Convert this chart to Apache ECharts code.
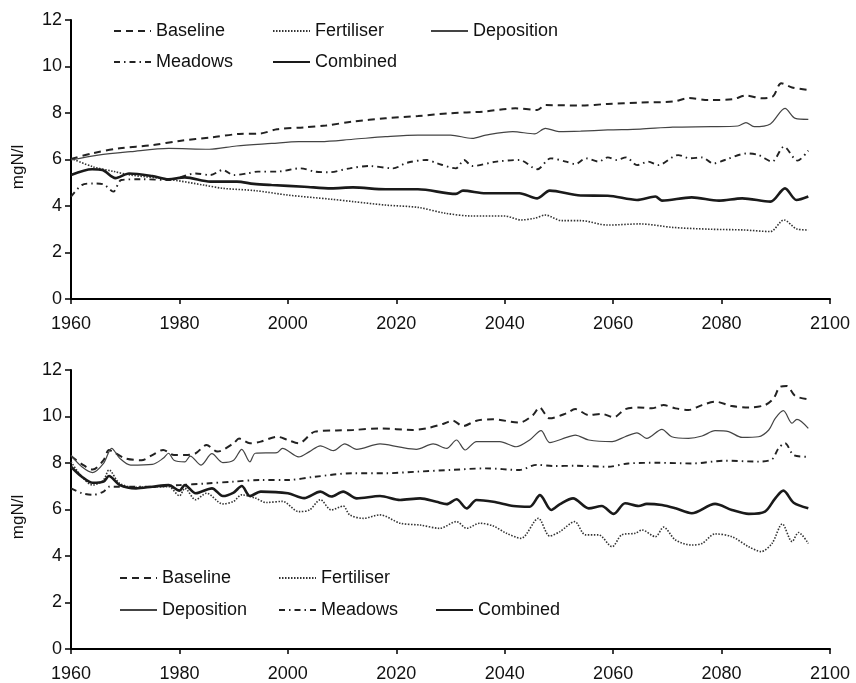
<!DOCTYPE html>
<html>
<head>
<meta charset="utf-8">
<script src="https://cdn.jsdelivr.net/npm/echarts@6/dist/echarts.min.js"></script>
<style>
  html, body { margin: 0; padding: 0; background: #fff; }
  #chart { width: 856px; height: 683px; }
</style>
</head>
<body>
<div id="chart"></div>
<script>
// values, [year, mgN/l]
var topBaseline = [[1960,6.02],[1964,6.27],[1969,6.48],[1975,6.62],[1980,6.8],[1986,6.95],[1991,7.1],[1995,7.12],[1998,7.3],[2003,7.38],[2007,7.46],[2012,7.63],[2018,7.77],[2024,7.87],[2030,7.99],[2036,8.06],[2042,8.2],[2046,8.13],[2047.5,8.34],[2054,8.32],[2059,8.39],[2065,8.45],[2071,8.49],[2074,8.64],[2077.5,8.56],[2082,8.59],[2084.5,8.75],[2087.5,8.63],[2089.5,8.72],[2091,9.28],[2093,9.1],[2096,8.99]];
var topFertiliser = [[1960,6.05],[1964,5.69],[1968,5.48],[1971,5.33],[1978,5.15],[1984.5,4.9],[1988,4.76],[1994,4.66],[2000,4.47],[2008,4.29],[2012,4.19],[2018,4.04],[2024,3.94],[2029,3.69],[2034,3.57],[2040,3.57],[2043,3.4],[2045.5,3.47],[2047.5,3.61],[2050.5,3.37],[2054,3.37],[2059,3.18],[2065,3.23],[2071,3.08],[2078,3.0],[2084,2.97],[2089,2.9],[2091.5,3.4],[2094,3.0],[2096,2.97]];
var topDeposition = [[1960,5.98],[1965,6.19],[1971,6.34],[1978,6.48],[1985.5,6.44],[1990.5,6.58],[1997,6.69],[2002,6.77],[2006,6.77],[2012,6.87],[2018,6.98],[2024,7.05],[2030,7.05],[2034,6.91],[2036.5,7.05],[2041.5,7.2],[2045.5,7.1],[2047.5,7.34],[2050,7.2],[2054,7.22],[2059,7.27],[2065,7.31],[2071,7.39],[2078,7.41],[2083,7.44],[2084.5,7.59],[2086,7.41],[2089,7.53],[2091.7,8.2],[2093.6,7.77],[2096,7.73]];
var topMeadows = [[1960,4.4],[1962,4.9],[1964,4.97],[1966,4.93],[1967.8,4.62],[1969.3,5.12],[1973,5.15],[1978,5.12],[1983,5.4],[1985.7,5.33],[1988,5.55],[1990,5.33],[1992.5,5.4],[1994.5,5.48],[1998,5.48],[2002.3,5.62],[2005,5.48],[2007.5,5.45],[2011.4,5.62],[2015,5.72],[2019.4,5.62],[2022,5.86],[2025.6,5.98],[2027.5,5.84],[2031,5.62],[2032.5,5.98],[2034,5.72],[2038.5,5.91],[2042.7,5.98],[2046,5.58],[2048.5,6.05],[2051.3,5.91],[2053,5.8],[2055,6.05],[2057.3,5.91],[2059,6.09],[2060.6,5.98],[2062.4,6.09],[2064.4,5.76],[2066.5,5.91],[2068.3,5.76],[2072,6.19],[2074.2,6.05],[2076.4,6.09],[2078.5,5.83],[2080.6,5.98],[2084.7,6.26],[2086.8,6.19],[2089.3,5.91],[2091.5,6.55],[2094,5.95],[2096,6.38]];
var topCombined = [[1960,5.33],[1963.9,5.58],[1965.8,5.55],[1968.2,5.2],[1970.7,5.4],[1975,5.29],[1978,5.15],[1981,5.23],[1985.7,5.05],[1990.6,5.05],[1993.7,4.95],[1997,4.9],[2003,4.83],[2008,4.76],[2012,4.8],[2018,4.72],[2024,4.72],[2031,4.52],[2032.3,4.66],[2036.5,4.55],[2042.7,4.55],[2046,4.33],[2048.3,4.66],[2054,4.45],[2059,4.44],[2064.4,4.26],[2067.8,4.41],[2069,4.23],[2074.5,4.37],[2079.5,4.23],[2083.8,4.33],[2089,4.19],[2091.7,4.76],[2093.8,4.26],[2096,4.41]];

var botBaseline = [[1960,8.3],[1962,7.95],[1964,7.72],[1966,8.12],[1967,8.56],[1968,8.45],[1970,8.2],[1973,8.12],[1975,8.34],[1977,8.56],[1979,8.34],[1981,8.34],[1983,8.42],[1985,8.77],[1987,8.49],[1990,8.85],[1991,9.05],[1993,8.85],[1995,8.92],[1998,9.13],[2000,8.99],[2002,8.85],[2005,9.35],[2009,9.4],[2012,9.42],[2017,9.49],[2023,9.42],[2025.6,9.49],[2028.6,9.68],[2030.4,9.82],[2032.3,9.59],[2034.8,9.82],[2037.8,9.88],[2042.7,9.74],[2045.2,10.06],[2046.4,10.39],[2048.3,9.92],[2051.4,10.14],[2053,10.32],[2055.5,10.06],[2057.9,10.11],[2060.1,9.97],[2062.2,10.31],[2064.7,10.39],[2067.1,10.35],[2069.3,10.49],[2071.5,10.35],[2073.9,10.28],[2076.4,10.49],[2078.8,10.64],[2081.9,10.45],[2085,10.39],[2088,10.49],[2089.6,10.78],[2090.8,11.28],[2092,11.31],[2093.6,10.88],[2096,10.74]];
var botFertiliser = [[1960,8.05],[1962,7.41],[1964,7.05],[1966,7.27],[1967,7.7],[1969,7.12],[1972,6.95],[1975,6.98],[1978,6.98],[1980,6.59],[1981,6.91],[1983,6.42],[1985,6.7],[1988,6.24],[1990,6.35],[1991.5,6.63],[1994,6.49],[1996,6.3],[1999,6.35],[2002,5.91],[2004,5.98],[2006,6.42],[2008,5.98],[2010.2,6.15],[2011.4,5.77],[2013.9,5.62],[2017,5.77],[2020.7,5.41],[2024.4,5.33],[2028,5.19],[2031.1,5.48],[2033,5.19],[2035.4,5.41],[2037.9,5.29],[2040.3,4.98],[2043,4.76],[2046.2,5.62],[2048.3,4.86],[2050.2,5.05],[2052.9,5.48],[2054.9,4.91],[2057.3,4.91],[2059.8,4.4],[2061.6,4.91],[2064.1,4.98],[2065.3,5.12],[2067.8,4.83],[2069.3,5.24],[2071.5,4.69],[2074.5,4.47],[2076.4,4.54],[2078.8,4.95],[2081.9,4.83],[2085,4.4],[2087.3,4.19],[2089.3,4.54],[2091.2,5.38],[2093,4.62],[2094.2,5.01],[2096,4.54]];
var botDeposition = [[1960,8.33],[1962,7.84],[1964,7.59],[1966,7.98],[1967.5,8.63],[1969,8.2],[1971,7.91],[1975,7.94],[1977,8.2],[1978,8.42],[1979,8.12],[1981,8.05],[1982,8.3],[1984,7.91],[1986,8.4],[1988,8.02],[1990,8.12],[1991.5,8.59],[1993,8.05],[1994,8.42],[1998,8.45],[1999,8.63],[2002,8.26],[2004,8.49],[2006,8.74],[2008.4,8.53],[2010.5,8.82],[2012.7,8.59],[2017,8.82],[2020.7,8.68],[2023.7,8.59],[2026.8,8.82],[2029.3,8.63],[2031.1,8.99],[2032.7,8.56],[2034.8,8.92],[2039.1,8.92],[2042.1,8.7],[2044.6,8.99],[2046.7,9.39],[2048.3,8.88],[2051.4,9.1],[2053,9.2],[2055.5,8.99],[2059.8,8.92],[2062.2,9.13],[2064.4,9.3],[2066.2,9.06],[2069,9.45],[2070.8,9.13],[2073.9,9.06],[2076.4,9.16],[2078.8,9.39],[2081.3,9.35],[2083.8,9.1],[2086.8,9.13],[2088.7,9.42],[2089.9,9.92],[2091.4,10.25],[2093,9.71],[2093.9,9.88],[2096,9.49]];
var botMeadows = [[1960,6.91],[1962,6.7],[1964,6.63],[1966,6.77],[1967,6.98],[1969,6.98],[1975,6.98],[1980,7.05],[1985,7.12],[1990,7.2],[1995,7.27],[2000,7.27],[2005,7.41],[2012,7.56],[2018,7.56],[2024,7.63],[2030,7.7],[2036.5,7.77],[2042.7,7.7],[2045.9,7.92],[2049,7.87],[2053,7.88],[2059,7.84],[2062.8,7.98],[2068.4,8.01],[2074.5,7.98],[2080.7,8.1],[2086.8,8.06],[2089.3,8.16],[2090.5,8.63],[2091.7,8.85],[2093.3,8.34],[2095.7,8.27]];
var botCombined = [[1960,7.84],[1962,7.41],[1964,7.15],[1966,7.2],[1967,7.44],[1969,7.05],[1972,6.91],[1975,6.98],[1978,7.05],[1980,6.81],[1981,7.05],[1983,6.7],[1986,6.91],[1988,6.58],[1990,6.73],[1991.5,7.01],[1993,6.58],[1995,6.77],[2000,6.7],[2003,6.49],[2006,6.77],[2008,6.56],[2010.2,6.77],[2012.7,6.48],[2017,6.58],[2020.7,6.41],[2024.4,6.48],[2027.4,6.33],[2029.3,6.23],[2031.1,6.44],[2033,6.05],[2034.8,6.41],[2037.9,6.33],[2041.6,6.15],[2044.6,6.12],[2046.5,6.62],[2048.6,5.98],[2050.2,6.23],[2052.6,6.48],[2055.5,6.05],[2057.9,6.15],[2060.1,5.81],[2062.2,6.27],[2064.7,6.15],[2066.2,6.24],[2069,6.19],[2071.5,6.05],[2074.5,5.84],[2078.8,6.24],[2081.9,5.98],[2085,5.81],[2088,5.91],[2089.9,6.48],[2091.4,6.81],[2093.3,6.29],[2096,6.05]];

var xTicks = [1960, 2100, 20];
var yTicks = [0, 12, 2];

var font = 'Liberation Sans, Arial, sans-serif';

var styles = {
    Baseline:   { color: '#222', width: 2, type: [7, 5] },
    Fertiliser: { color: '#333', width: 1.6, type: [1.5, 1.5] },
    Deposition: { color: '#444', width: 1.2, type: 'solid' },
    Meadows:    { color: '#222', width: 1.9, type: [6, 4, 1.5, 4] },
    Combined:   { color: '#1a1a1a', width: 2.6, type: 'solid' }
};

function line(name, data, idx) {
    return {
        name: name,
        type: 'line',
        xAxisIndex: idx,
        yAxisIndex: idx,
        data: data,
        smooth: 0.3,
        symbol: 'none',
        silent: true,
        itemStyle: { color: styles[name].color },
        lineStyle: styles[name]
    };
}

function xAxis(idx) {
    return {
        type: 'value', gridIndex: idx,
        min: xTicks[0], max: xTicks[1], interval: xTicks[2],
        axisLine: { lineStyle: { color: '#000', width: 2 } },
        axisTick: { length: 5, lineStyle: { color: '#000', width: 1.5 } },
        axisLabel: {
            color: '#111', fontSize: 18, fontFamily: font, margin: 16,
            formatter: function (v) { return String(v); }
        },
        splitLine: { show: false }
    };
}

function yAxis(idx) {
    return {
        type: 'value', gridIndex: idx,
        min: yTicks[0], max: yTicks[1], interval: yTicks[2],
        name: 'mgN/l', nameLocation: 'middle', nameGap: 44,
        nameTextStyle: { color: '#111', fontSize: 17, fontFamily: font, padding: [0, 15, 0, 0] },
        axisLine: { show: true, lineStyle: { color: '#000', width: 2 } },
        axisTick: { show: true, length: 6, lineStyle: { color: '#000', width: 1.5 } },
        axisLabel: { color: '#111', fontSize: 18, fontFamily: font, margin: 9 },
        splitLine: { show: false }
    };
}

// legend entries: name, left, vertical centre
var legendSpots = [
    ['Baseline', 113, 32], ['Fertiliser', 272, 32], ['Deposition', 430, 32],
    ['Meadows', 113, 63], ['Combined', 272, 63],
    ['Baseline', 119, 579], ['Fertiliser', 278, 579],
    ['Deposition', 119, 611], ['Meadows', 278, 611], ['Combined', 435, 611]
];

var chart = echarts.init(document.getElementById('chart'));
chart.setOption({
    animation: false,
    backgroundColor: '#fff',
    grid: [
        { left: 71, right: 26, top: 20, height: 279 },
        { left: 71, right: 26, top: 370, height: 279 }
    ],
    xAxis: [xAxis(0), xAxis(1)],
    yAxis: [yAxis(0), yAxis(1)],
    legend: legendSpots.map(function (s) {
        return {
            data: [s[0]], left: s[1], top: s[2] - 10,
            itemWidth: 37, itemHeight: 14, itemGap: 0, padding: 0,
            selectedMode: false,
            itemStyle: { opacity: 0 },
            textStyle: { color: '#111', fontSize: 18, fontFamily: font }
        };
    }),
    series: [
        line('Fertiliser', topFertiliser, 0),
        line('Meadows', topMeadows, 0),
        line('Baseline', topBaseline, 0),
        line('Deposition', topDeposition, 0),
        line('Combined', topCombined, 0),
        line('Fertiliser', botFertiliser, 1),
        line('Meadows', botMeadows, 1),
        line('Baseline', botBaseline, 1),
        line('Deposition', botDeposition, 1),
        line('Combined', botCombined, 1)
    ]
});
</script>
</body>
</html>
